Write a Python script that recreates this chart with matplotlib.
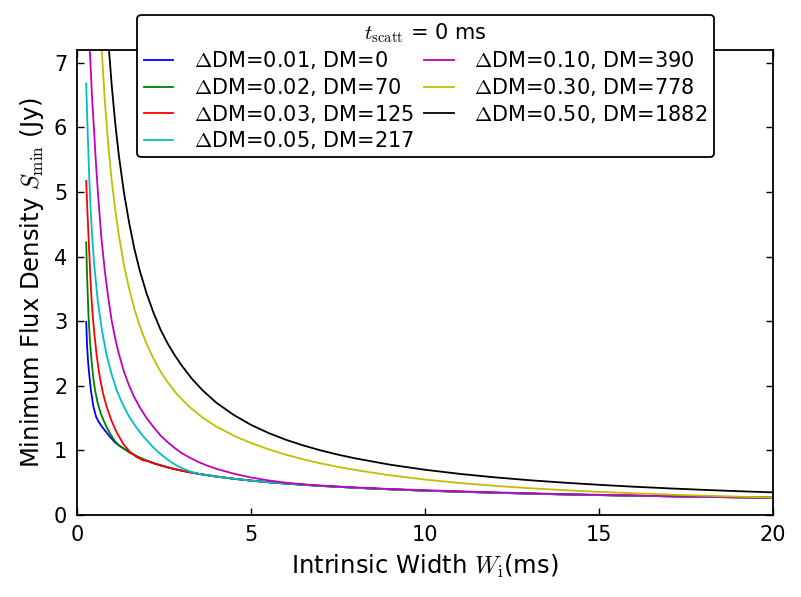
import matplotlib
matplotlib.use("Agg")
import matplotlib.pyplot as plt

plt.rcParams['mathtext.fontset'] = 'cm'
plt.rcParams['font.family'] = ['DejaVu Sans']

# 데이터
labels = ['$\\Delta$DM=0.01, DM=0', '$\\Delta$DM=0.02, DM=70', '$\\Delta$DM=0.03, DM=125',
          '$\\Delta$DM=0.05, DM=217', '$\\Delta$DM=0.10, DM=390', '$\\Delta$DM=0.30, DM=778',
          '$\\Delta$DM=0.50, DM=1882']
colors = ['b', 'g', 'r', 'c', 'm', 'y', 'k']

# 모든 곡선이 합쳐지는 공통 꼬리
w_tail = [1.3, 1.5, 1.75, 2.0, 2.25, 2.5, 2.75, 3.0, 3.5, 4.0, 4.5, 5.0, 5.5, 6.0, 7.0, 8.0, 9.0,
          10.0, 12.0, 14.0, 16.0, 18.0, 20.0]
s_tail = [1.044, 0.972, 0.9, 0.841, 0.793, 0.753, 0.718, 0.687, 0.636, 0.595, 0.561, 0.532, 0.507,
          0.486, 0.45, 0.421, 0.397, 0.376, 0.344, 0.318, 0.298, 0.28, 0.266]

w_blue = [0.265, 0.29, 0.32, 0.35, 0.40, 0.47, 0.55, 0.61, 0.70, 0.80, 0.95, 1.1, 1.24]
s_blue = [2.99, 2.62, 2.36, 2.19, 1.93, 1.68, 1.52, 1.455, 1.38, 1.31, 1.21, 1.12, 1.065]

w_green = [0.265, 0.29, 0.33, 0.37, 0.42, 0.47, 0.52, 0.6, 0.68, 0.76, 0.85, 0.95, 1.08, 1.24]
s_green = [4.22, 3.7, 3.1, 2.71, 2.38, 2.12, 1.93, 1.72, 1.58, 1.47, 1.36, 1.26, 1.15, 1.06]

w_red = [0.265, 0.30, 0.35, 0.40, 0.45, 0.50, 0.57, 0.65, 0.75, 0.85, 1.0, 1.15, 1.33, 1.5, 1.7, 1.9]
s_red = [5.17, 4.7, 4.1, 3.5, 3.1, 2.8, 2.45, 2.15, 1.88, 1.68, 1.45, 1.27, 1.1, 0.99, 0.9, 0.845]

w_cyan = [0.265, 0.30, 0.35, 0.40, 0.45, 0.50, 0.60, 0.72, 0.85, 1.0, 1.15, 1.3, 1.5, 1.7, 1.9,
          2.1, 2.3, 2.5, 2.7, 2.9, 3.1, 3.3]
s_cyan = [6.68, 6.05, 5.25, 4.65, 4.2, 3.85, 3.3, 2.85, 2.48, 2.17, 1.92, 1.73, 1.52, 1.36, 1.22,
          1.1, 0.99, 0.9, 0.82, 0.755, 0.705, 0.665]

w_mag = [0.3, 0.37, 0.43, 0.49, 0.55, 0.61, 0.7, 0.8, 0.9, 1.0, 1.1, 1.2, 1.35, 1.5, 1.65, 1.8, 2.0,
         2.2, 2.4, 2.6, 2.8, 3.0, 3.25, 3.5, 3.75, 4.0, 4.5, 5.0, 5.5, 6.0, 6.5, 7.0, 7.5, 8.0, 9.0,
         10.0, 11.0, 12.0, 13.0, 14.0, 15.0, 16.0, 17.0, 18.0, 19.0, 20.0]
s_mag = [8.6, 7.2, 6.5, 5.96, 5.4, 4.93, 4.3, 3.78, 3.36, 3.0, 2.73, 2.5, 2.22, 2.0, 1.82, 1.67, 1.5,
         1.36, 1.23, 1.13, 1.04, 0.96, 0.885, 0.817, 0.763, 0.715, 0.64, 0.58, 0.535, 0.5, 0.475,
         0.456, 0.44, 0.426, 0.402, 0.383, 0.366, 0.35, 0.336, 0.323, 0.312, 0.302, 0.292, 0.283,
         0.275, 0.267]

w_yel = [0.3, 0.45, 0.6, 0.71, 0.8, 0.9, 1.0, 1.1, 1.2, 1.35, 1.5, 1.65, 1.8, 2.0, 2.2, 2.4, 2.6,
         2.86, 3.2, 3.6, 4.0, 4.5, 5.0, 5.5, 6.0, 6.5, 7.0, 7.5, 8.0, 9.0, 10.0, 11.0, 12.0, 13.0,
         14.0, 15.0, 16.0, 17.0, 18.0, 19.0, 20.0]
s_yel = [16.8, 11.29, 8.52, 7.21, 6.41, 5.72, 5.17, 4.72, 4.34, 3.87, 3.5, 3.19, 2.93, 2.65, 2.42,
         2.22, 2.06, 1.878, 1.688, 1.511, 1.37, 1.229, 1.114, 1.018, 0.933, 0.862, 0.799, 0.744,
         0.696, 0.614, 0.548, 0.495, 0.451, 0.415, 0.384, 0.358, 0.336, 0.316, 0.2995, 0.284, 0.27]

w_blk = [0.3, 0.5, 0.7, 0.85, 0.92, 1.0, 1.1, 1.2, 1.35, 1.5, 1.65, 1.8, 2.0, 2.2, 2.4, 2.6, 2.8,
         3.0, 3.3, 3.6, 4.0, 4.5, 5.0, 5.5, 6.0, 6.5, 7.0, 7.5, 8.0, 9.0, 10.0, 11.0, 12.0, 13.0,
         14.0, 15.0, 16.0, 17.0, 18.0, 19.0, 20.0]
s_blk = [21.7, 13.1, 9.38, 7.8, 7.2, 6.64, 6.06, 5.58, 4.99, 4.52, 4.12, 3.79, 3.43, 3.13, 2.87,
         2.66, 2.48, 2.32, 2.11, 1.935, 1.74, 1.55, 1.395, 1.27, 1.165, 1.077, 1.0, 0.934, 0.876,
         0.778, 0.70, 0.636, 0.583, 0.538, 0.5, 0.467, 0.4375, 0.412, 0.389, 0.368, 0.35]

def with_tail(w, s):
    last = w[-1]
    ww = list(w) + [x for x in w_tail if x > last]
    ss = list(s) + [y for x, y in zip(w_tail, s_tail) if x > last]
    return ww, ss

series = [with_tail(w_blue, s_blue), with_tail(w_green, s_green), with_tail(w_red, s_red),
          with_tail(w_cyan, s_cyan), (w_mag, s_mag), (w_yel, s_yel), (w_blk, s_blk)]

fig = plt.figure(figsize=(8.01, 5.97), dpi=100)
ax = fig.add_axes([0.0961, 0.1374, 0.869, 0.779])

for (w, s), c, lab in zip(series, colors, labels):
    ax.plot(w, s, color=c, lw=1.3, label=lab)

ax.set_xlim(0, 20)
ax.set_ylim(0, 7.2)
ax.set_xticks([0, 5, 10, 15, 20])
ax.set_yticks([0, 1, 2, 3, 4, 5, 6, 7])
ax.tick_params(direction='in', top=True, right=True, length=5, width=1, labelsize=15, pad=7)
for sp in ax.spines.values():
    sp.set_linewidth(1.3)

ax.set_xlabel('Intrinsic Width $W_{\\rm i}$(ms)', fontsize=17.5, labelpad=6)
ax.set_ylabel('Minimum Flux Density $S_{\\rm min}$ (Jy)', fontsize=17.5, labelpad=6)

leg = ax.legend(loc='upper center', bbox_to_anchor=(0.501, 1.075), ncol=2, fontsize=15,
                title='$t_{\\rm scatt}$ = 0 ms', title_fontsize=15, fancybox=True,
                framealpha=1, edgecolor='k', handlelength=1.4, handletextpad=1.0,
                columnspacing=0.5, labelspacing=0.22, borderpad=0.3, borderaxespad=0)
leg.get_frame().set_linewidth(1.3)

fig.savefig('out.png', dpi=100)
